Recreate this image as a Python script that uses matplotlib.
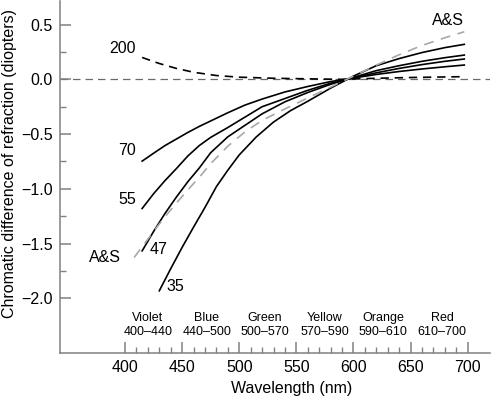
import matplotlib
matplotlib.use("Agg")
import matplotlib.pyplot as plt
from matplotlib.ticker import FixedLocator

plt.rcParams['font.family'] = ['Liberation Sans', 'DejaVu Sans']

# ---- data ----
wl_200 = [415, 430, 445, 460, 480, 500, 530, 560, 590, 620, 650, 680, 697]
cd_200 = [0.20, 0.145, 0.10, 0.065, 0.035, 0.02, 0.01, 0.005, 0.0, 0.01, 0.017, 0.022, 0.025]

wl_70 = [415, 425, 435, 445, 455, 465, 475, 490, 505, 520, 540, 560, 580, 600, 620, 640, 660, 680, 697]
cd_70 = [-0.747, -0.675, -0.605, -0.545, -0.485, -0.43, -0.38, -0.305, -0.235, -0.18, -0.115,
         -0.065, -0.02, 0.012, 0.045, 0.072, 0.095, 0.115, 0.131]

wl_55 = [415, 425, 435, 445, 455, 465, 475, 490, 505, 520, 540, 560, 580, 600, 620, 640, 660, 680, 697]
cd_55 = [-1.18, -1.045, -0.925, -0.815, -0.70, -0.605, -0.53, -0.44, -0.345, -0.25, -0.175,
         -0.10, -0.035, 0.015, 0.06, 0.10, 0.135, 0.165, 0.186]

wl_47 = [415, 425, 435, 445, 455, 465, 475, 490, 505, 520, 540, 560, 580, 600, 620, 640, 660, 680, 697]
cd_47 = [-1.567, -1.39, -1.225, -1.075, -0.935, -0.81, -0.67, -0.525, -0.42, -0.315, -0.205,
         -0.12, -0.045, 0.018, 0.08, 0.125, 0.165, 0.198, 0.222]

wl_35 = [430, 440, 450, 460, 470, 480, 490, 500, 515, 530, 545, 560, 580, 600, 620, 640, 660, 680, 697]
cd_35 = [-1.932, -1.73, -1.535, -1.35, -1.17, -0.98, -0.83, -0.69, -0.525, -0.39, -0.285,
         -0.20, -0.08, 0.03, 0.125, 0.19, 0.245, 0.29, 0.32]

wl_as = [408, 415, 425, 435, 445, 455, 465, 475, 490, 505, 520, 540, 560, 580, 600, 620, 640, 660, 680, 697]
cd_as = [-1.627, -1.53, -1.39, -1.255, -1.13, -1.01, -0.895, -0.77, -0.61, -0.48, -0.375, -0.27,
         -0.17, -0.07, 0.03, 0.13, 0.225, 0.31, 0.38, 0.435]

band_names = ["Violet", "Blue", "Green", "Yellow", "Orange", "Red"]
band_ranges = ["400\u2013440", "440\u2013500", "500\u2013570", "570\u2013590", "590\u2013610", "610\u2013700"]
band_centers = [420, 471.5, 522.5, 575, 626, 677.5]

# ---- figure ----
fig = plt.figure(figsize=(4.92, 3.98), dpi=100)
ax = fig.add_axes([60/492, 1-353/398, 430/492, 352/398])
ax.set_xlim(343.1, 719.5)
ax.set_ylim(-2.5, 0.716)

spine_c = '#808080'
for s in ['top', 'right']:
    ax.spines[s].set_visible(False)
for s in ['left', 'bottom']:
    ax.spines[s].set_color(spine_c)
    ax.spines[s].set_linewidth(1.1)

ax.axhline(0, color='#6a6a6a', lw=0.9, dashes=(6, 4), zorder=1)

ax.plot(wl_200, cd_200, color='black', lw=1.2, dashes=(5, 3.5))
for w, c in [(wl_70, cd_70), (wl_55, cd_55), (wl_47, cd_47), (wl_35, cd_35)]:
    ax.plot(w, c, color='black', lw=1.2)
ax.plot(wl_as, cd_as, color='#a8a8a8', lw=1.2, dashes=(6, 4.5))

fs = 11.5
ax.text(409.6, 0.286, "200", ha='right', va='center', fontsize=fs)
ax.text(409.6, -0.646, "70", ha='right', va='center', fontsize=fs)
ax.text(409.6, -1.097, "55", ha='right', va='center', fontsize=fs)
ax.text(421.3, -1.551, "47", ha='left', va='center', fontsize=fs)
ax.text(382.5, -1.629, "A&S", ha='center', va='center', fontsize=fs)
ax.text(435.9, -1.896, "35", ha='left', va='center', fontsize=fs)
ax.text(683, 0.536, "A&S", ha='center', va='center', fontsize=fs)

for name, rng, xc in zip(band_names, band_ranges, band_centers):
    ax.text(xc, -2.182, name, ha='center', va='center', fontsize=9)
    ax.text(xc, -2.31, rng, ha='center', va='center', fontsize=9)

ax.xaxis.set_major_locator(FixedLocator([400, 450, 500, 550, 600, 650, 700]))
ax.xaxis.set_minor_locator(FixedLocator([v for v in range(410, 700, 10) if v % 50]))
ax.yaxis.set_major_locator(FixedLocator([-2.0, -1.5, -1.0, -0.5, 0.0, 0.5]))
ax.yaxis.set_minor_locator(FixedLocator([-1.75, -1.25, -0.75, -0.25, 0.25]))
ax.set_yticklabels(["\u22122.0", "\u22121.5", "\u22121.0", "\u22120.5", "0.0", "0.5"])

ax.tick_params(which='major', direction='in', length=8, width=1.1, color=spine_c,
               labelsize=11.5, pad=5)
ax.tick_params(which='minor', direction='in', length=4, width=1.0, color=spine_c)

ax.set_xlabel("Wavelength (nm)", fontsize=11.5)
ax.xaxis.set_label_coords((292-60)/430, -(388-353)/352)
ax.set_ylabel("Chromatic difference of refraction (diopters)", fontsize=11.5)
ax.yaxis.set_label_coords((10-60)/430, (353-163)/352)
ax.xaxis.label.set_va('center')
ax.yaxis.label.set_va('center')

fig.savefig("out.png", dpi=100)
